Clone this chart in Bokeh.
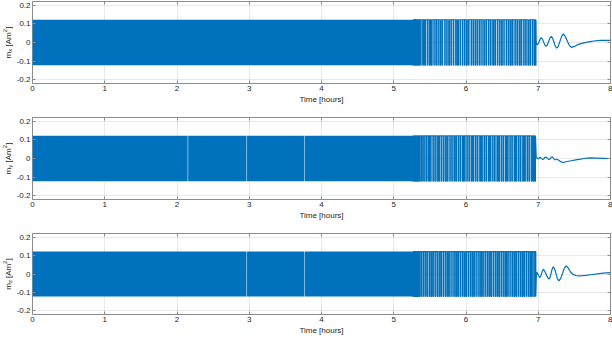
from math import pi
from bokeh.plotting import figure
from bokeh.models import Range1d, FixedTicker, LinearAxis, Label
from bokeh.layouts import column, row
from bokeh.embed import file_html
from bokeh.resources import INLINE

# ---------------- data ----------------
x_ticks = [0, 1, 2, 3, 4, 5, 6, 7, 8]
y_ticks = [-0.2, -0.1, 0, 0.1, 0.2]
y_tick_labels = ["-0.2", "-0.1", "0", "0.1", "0.2"]
x_label = "Time [hours]"
components = ["x", "y", "z"]
amplitude = 0.122  # saturation level of the bang-bang dipole [Am^2]

# hold intervals (thin gaps) inside the dense switching band [hours]
mx_holds = []
my_holds = [2.151, 2.966, 3.768]
mz_holds = [2.966, 3.768]

# switching instants in the sparse switching phase [hours]
mx_switch = [5.268, 5.273, 5.277, 5.281, 5.286, 5.290, 5.295, 5.300, 5.305, 5.309, 5.315, 5.321,
             5.327, 5.334, 5.341, 5.349, 5.362, 5.368, 5.389, 5.395, 5.413, 5.421, 5.437, 5.443,
             5.468, 5.474, 5.496, 5.503, 5.519, 5.531, 5.556, 5.561, 5.583, 5.590, 5.612, 5.617,
             5.639, 5.652, 5.671, 5.677, 5.706, 5.712, 5.733, 5.739, 5.761, 5.774, 5.795, 5.801,
             5.826, 5.831, 5.857, 5.864, 5.882, 5.895, 5.917, 5.922, 5.948, 5.955, 5.978, 5.983,
             6.004, 6.017, 6.036, 6.042, 6.071, 6.076, 6.098, 6.105, 6.127, 6.139, 6.160, 6.165,
             6.188, 6.195, 6.219, 6.224, 6.247, 6.259, 6.280, 6.286, 6.312, 6.317, 6.339, 6.346,
             6.370, 6.382, 6.401, 6.407, 6.433, 6.438, 6.462, 6.469, 6.490, 6.502, 6.524, 6.529,
             6.556, 6.561, 6.584, 6.591, 6.612, 6.626, 6.645, 6.650, 6.677, 6.683, 6.705, 6.712,
             6.735, 6.748, 6.767, 6.772, 6.799, 6.805, 6.826, 6.833, 6.857, 6.869, 6.889, 6.894,
             6.919, 6.925, 6.946, 6.952, 6.963, 6.968]
my_switch = [5.266, 5.271, 5.276, 5.282, 5.287, 5.293, 5.297, 5.303, 5.308, 5.314, 5.320, 5.328,
             5.336, 5.343, 5.352, 5.358, 5.377, 5.383, 5.401, 5.409, 5.428, 5.434, 5.455, 5.461,
             5.482, 5.494, 5.511, 5.517, 5.542, 5.548, 5.569, 5.576, 5.598, 5.611, 5.628, 5.634,
             5.657, 5.663, 5.686, 5.693, 5.715, 5.727, 5.745, 5.751, 5.776, 5.782, 5.803, 5.810,
             5.833, 5.846, 5.864, 5.870, 5.894, 5.900, 5.921, 5.928, 5.952, 5.965, 5.982, 5.988,
             6.012, 6.018, 6.040, 6.047, 6.071, 6.084, 6.101, 6.107, 6.131, 6.137, 6.158, 6.165,
             6.190, 6.203, 6.220, 6.226, 6.250, 6.256, 6.277, 6.284, 6.309, 6.322, 6.339, 6.345,
             6.369, 6.375, 6.396, 6.403, 6.428, 6.441, 6.458, 6.464, 6.488, 6.494, 6.515, 6.522,
             6.547, 6.560, 6.577, 6.583, 6.607, 6.613, 6.634, 6.641, 6.666, 6.679, 6.696, 6.702,
             6.726, 6.732, 6.753, 6.760, 6.785, 6.798, 6.815, 6.821, 6.845, 6.851, 6.872, 6.879,
             6.904, 6.917, 6.934, 6.940, 6.955, 6.961]
mz_switch = [5.269, 5.274, 5.280, 5.284, 5.289, 5.294, 5.299, 5.304, 5.310, 5.316, 5.323, 5.330,
             5.338, 5.346, 5.355, 5.361, 5.380, 5.386, 5.407, 5.412, 5.433, 5.440, 5.459, 5.466,
             5.489, 5.495, 5.514, 5.526, 5.544, 5.551, 5.573, 5.578, 5.600, 5.607, 5.628, 5.641,
             5.659, 5.665, 5.688, 5.693, 5.716, 5.723, 5.743, 5.756, 5.774, 5.780, 5.803, 5.808,
             5.831, 5.838, 5.858, 5.871, 5.889, 5.895, 5.918, 5.923, 5.946, 5.953, 5.973, 5.986,
             6.004, 6.010, 6.033, 6.038, 6.061, 6.068, 6.088, 6.101, 6.119, 6.125, 6.148, 6.153,
             6.176, 6.183, 6.203, 6.216, 6.234, 6.240, 6.263, 6.268, 6.291, 6.298, 6.318, 6.331,
             6.349, 6.355, 6.378, 6.383, 6.406, 6.413, 6.433, 6.446, 6.464, 6.470, 6.493, 6.498,
             6.521, 6.528, 6.548, 6.561, 6.579, 6.585, 6.608, 6.613, 6.636, 6.643, 6.663, 6.676,
             6.694, 6.700, 6.723, 6.728, 6.751, 6.758, 6.778, 6.791, 6.809, 6.815, 6.838, 6.843,
             6.866, 6.873, 6.893, 6.906, 6.924, 6.930, 6.950, 6.958, 6.966]
# sign of the saturated level just before the free (unsaturated) phase
mx_last_sign = 1
my_last_sign = 1
mz_last_sign = -1

# free-phase (after ~7 h) dipole values
mx_tail_t = [6.972, 6.980, 6.990, 7.003, 7.016, 7.029, 7.042, 7.058, 7.075, 7.091,
             7.107, 7.125, 7.143, 7.162, 7.180, 7.198, 7.217, 7.236, 7.254, 7.277,
             7.300, 7.323, 7.346, 7.372, 7.400, 7.428, 7.457, 7.500, 7.540, 7.590,
             7.632, 7.680, 7.720, 7.770, 7.816, 7.870, 7.930, 8.000]
mx_tail_v = [0.000, -0.009, -0.012, -0.005, 0.008, 0.020, 0.026, 0.018, 0.002, -0.013,
             -0.020, -0.014, 0.005, 0.024, 0.033, 0.024, 0.003, -0.020, -0.030, -0.020,
             0.006, 0.033, 0.046, 0.034, 0.010, -0.014, -0.026, -0.021, -0.013, -0.006,
             -0.002, 0.002, 0.005, 0.008, 0.010, 0.011, 0.011, 0.011]
my_tail_t = [6.972, 6.985, 7.000, 7.018, 7.030, 7.042, 7.058, 7.075, 7.091, 7.107,
             7.125, 7.143, 7.162, 7.180, 7.198, 7.217, 7.236, 7.254, 7.277, 7.300,
             7.323, 7.346, 7.372, 7.400, 7.457, 7.500, 7.540, 7.590, 7.632, 7.680,
             7.720, 7.816, 7.910, 8.000]
my_tail_v = [0.005, 0.003, -0.003, 0.005, 0.006, 0.001, -0.005, -0.003, 0.006, 0.008,
             0.002, -0.005, -0.003, 0.008, 0.007, -0.002, -0.007, -0.004, -0.008, -0.014,
             -0.019, -0.021, -0.019, -0.016, -0.012, -0.009, -0.006, -0.003, 0.000, 0.002,
             0.003, 0.002, 0.001, 0.000]
mz_tail_t = [6.975, 6.990, 7.005, 7.024, 7.036, 7.047, 7.058, 7.070, 7.089, 7.109,
             7.128, 7.148, 7.163, 7.178, 7.193, 7.208, 7.228, 7.247, 7.266, 7.286,
             7.311, 7.336, 7.361, 7.387, 7.415, 7.445, 7.480, 7.520, 7.563, 7.610,
             7.660, 7.720, 7.790, 7.870, 7.940, 8.000]
mz_tail_v = [0.010, 0.004, -0.010, -0.019, -0.012, 0.003, 0.018, 0.026, 0.016, 0.000,
             -0.018, -0.028, -0.018, 0.004, 0.028, 0.039, 0.026, 0.001, -0.026, -0.037,
             -0.024, 0.003, 0.032, 0.044, 0.032, 0.012, -0.002, -0.008, -0.010, -0.009,
             -0.007, -0.004, -0.001, 0.003, 0.006, 0.008]

# ---------------- style ----------------
BLUE = "#0072BD"
AXC = "#8c8c8c"
TXT = "#262626"
FONT = "Liberation Sans"
HOLD_W = 0.007
LABEL_W = 13              # strip that carries the y label
MAIN_W = 612 - LABEL_W
B_LEFT, B_RIGHT, B_TOP = 18, 2, 1
FRAME_H = 82
PX_PER_UNIT = FRAME_H / 0.44


def label_strip(letter, b_bottom):
    s = figure(width=LABEL_W, height=B_TOP + FRAME_H + b_bottom,
               x_range=Range1d(0, 1), y_range=Range1d(-0.22, 0.22),
               x_axis_type=None, y_axis_type=None,
               output_backend="svg", toolbar_location=None,
               min_border_left=0, min_border_right=0,
               min_border_top=B_TOP, min_border_bottom=b_bottom)
    s.outline_line_color = None
    s.background_fill_color = "white"
    s.border_fill_color = "white"
    # pieces: text, baseline shift (px, + is "down" for rotated text), font px, advance px
    pieces = [("m", 0.0, 8, 6.67), (letter, 1.5, 6, 3.0 + 2.2), ("[Am", 0.0, 8, 14.2),
              ("2", -3.2, 6, 3.5), ("]", 0.0, 8, 2.22)]
    total = sum(w for *_, w in pieces)
    ypx = -total / 2
    base = 7.5
    for txt, shift, fs, w in pieces:
        s.add_layout(Label(x=base + shift, x_units="screen",
                           y=ypx / PX_PER_UNIT, y_units="data",
                           text=txt, angle=pi / 2,
                           text_font=FONT, text_font_size=f"{fs}px", text_color=TXT,
                           text_align="left", text_baseline="alphabetic"))
        ypx += w
    return s


def build_panel(switches, last_sign, holds, tail_t, tail_v, b_bottom):
    p = figure(width=MAIN_W, height=B_TOP + FRAME_H + b_bottom,
               x_range=Range1d(0, 8), y_range=Range1d(-0.22, 0.22),
               output_backend="svg", toolbar_location=None,
               min_border_left=B_LEFT, min_border_right=B_RIGHT,
               min_border_top=B_TOP, min_border_bottom=b_bottom)
    p.outline_line_color = AXC
    p.outline_line_width = 1
    p.background_fill_color = "white"
    p.border_fill_color = "white"

    # grid
    p.xgrid.ticker = FixedTicker(ticks=x_ticks)
    p.ygrid.ticker = FixedTicker(ticks=y_ticks)
    for g in (p.xgrid, p.ygrid):
        g.grid_line_color = TXT
        g.grid_line_alpha = 0.1
        g.grid_line_width = 1

    # bottom axis
    xa = p.xaxis[0]
    xa.ticker = FixedTicker(ticks=x_ticks)
    xa.axis_label = x_label
    xa.axis_label_text_font = FONT
    xa.axis_label_text_font_size = "8px"
    xa.axis_label_text_font_style = "normal"
    xa.axis_label_text_color = TXT
    xa.axis_label_standoff = 1
    # left axis
    ya = p.yaxis[0]
    ya.ticker = FixedTicker(ticks=y_ticks)
    ya.major_label_overrides = dict(zip(y_ticks, y_tick_labels))
    for ax in (xa, ya):
        ax.major_label_text_font = FONT
        ax.major_label_text_font_size = "8px"
        ax.major_label_text_color = TXT
        ax.axis_line_color = None
        ax.major_tick_in = 3
        ax.major_tick_out = 0
        ax.major_tick_line_color = AXC
        ax.minor_tick_line_color = None
    xa.major_label_standoff = 2
    ya.major_label_standoff = 2

    # box ticks on top / right
    top = LinearAxis(ticker=FixedTicker(ticks=x_ticks),
                     major_label_overrides={t: "" for t in x_ticks})
    right = LinearAxis(ticker=FixedTicker(ticks=y_ticks),
                       major_label_overrides={t: "" for t in y_ticks})
    for ax in (top, right):
        ax.major_label_text_font_size = "0px"
        ax.major_label_standoff = 0
        ax.axis_line_color = None
        ax.major_tick_in = 3
        ax.major_tick_out = 0
        ax.major_tick_line_color = AXC
        ax.minor_tick_line_color = None
    p.add_layout(top, "above")
    p.add_layout(right, "right")

    # dense switching band
    band_end = switches[0]
    lefts = [0.0] + [h + HOLD_W / 2 for h in holds]
    rights = [h - HOLD_W / 2 for h in holds] + [band_end]
    p.quad(left=lefts, right=rights, bottom=-amplitude, top=amplitude,
           fill_color=BLUE, line_color=None)

    # sparse switching + free phase
    n = len(switches)
    lev = amplitude * last_sign * (-1) ** n
    xs, ys = [], []
    for t in switches:
        xs += [t, t]
        ys += [lev, -lev]
        lev = -lev
    xs += list(tail_t)
    ys += list(tail_v)
    p.line(xs, ys, line_color=BLUE, line_width=1.2)
    return p


rows = []
for letter, sw, sg, hd, tt, tv, bb in [
        (components[0], mx_switch, mx_last_sign, mx_holds, mx_tail_t, mx_tail_v, 33),
        (components[1], my_switch, my_last_sign, my_holds, my_tail_t, my_tail_v, 33),
        (components[2], mz_switch, mz_last_sign, mz_holds, mz_tail_t, mz_tail_v, 22)]:
    rows.append(row(label_strip(letter, bb), build_panel(sw, sg, hd, tt, tv, bb), spacing=0))

layout = column(*rows, spacing=0)
open("out.html", "w").write(file_html(layout, INLINE))
